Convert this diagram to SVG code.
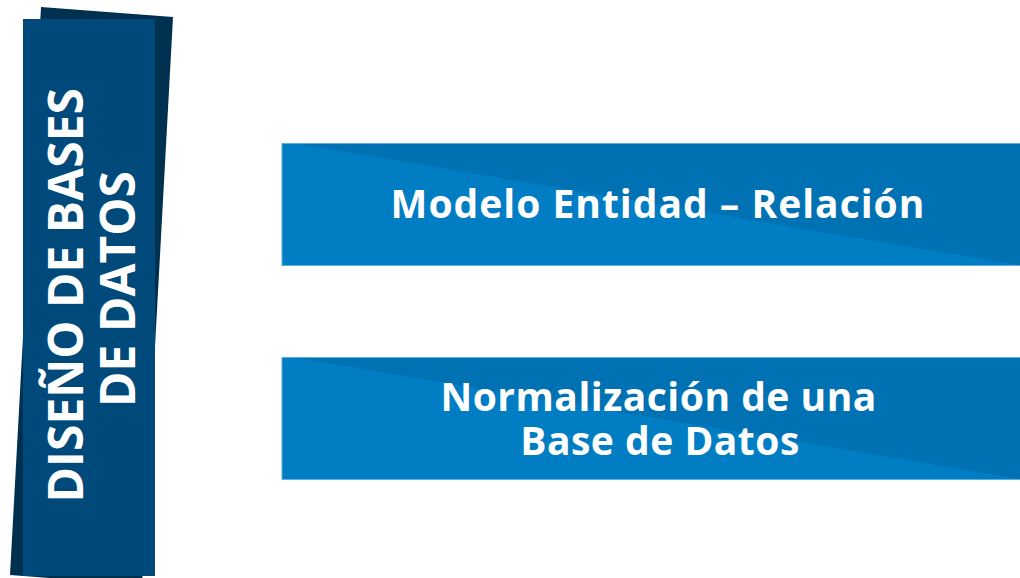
<svg xmlns="http://www.w3.org/2000/svg" width="1020" height="578" viewBox="0 0 1020 578">
  <style>
    .banner-back { fill: #00304f; }
    .banner-front { fill: #004a7b; }
    .box-light { fill: #007dc3; stroke: #5aaee0; stroke-width: 1; }
    .box-dark { fill: #0071b2; }
    .t { font-family: "Open Sans", "DejaVu Sans", sans-serif; font-weight: bold; fill: #ffffff; text-anchor: middle; }
    .title { font-size: 48px; }
    .label { font-size: 39px; }
  </style>
  <rect width="1020" height="578" fill="#ffffff"/>
  <g id="banner">
    <polygon class="banner-back" points="41,7 173,17 142,585 10,575"/>
    <rect class="banner-front" x="23" y="19" width="132" height="557"/>
    <text class="t title" transform="translate(83,289) rotate(-90)">
      <tspan x="0" y="0">DISEÑO DE BASES</tspan>
      <tspan x="0" y="52">DE DATOS</tspan>
    </text>
  </g>
  <g id="box-modelo">
    <rect class="box-light" x="282" y="143.5" width="740" height="122"/>
    <polygon class="box-dark" points="298,144 1020,144 1020,265"/>
    <text class="t label" x="658" y="218" letter-spacing="1">Modelo Entidad – Relación</text>
  </g>
  <g id="box-normalizacion">
    <rect class="box-light" x="282" y="357.5" width="740" height="122"/>
    <polygon class="box-dark" points="298,358 1020,358 1020,479"/>
    <text class="t label" letter-spacing="0.5">
      <tspan x="664" y="411">Normalización de una</tspan>
      <tspan x="660" y="455">Base de Datos</tspan>
    </text>
  </g>
  <g id="connectors"/>
</svg>
